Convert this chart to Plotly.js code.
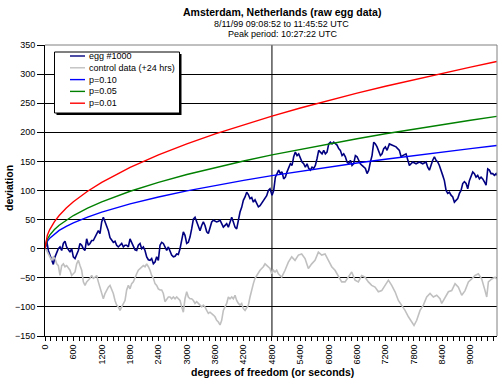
<!DOCTYPE html>
<html>
<head>
<meta charset="utf-8">
<script src="https://cdn.plot.ly/plotly-3.0.1.min.js"></script>
<style>html,body{margin:0;padding:0;background:#fff;}#chart{width:502px;height:384px;}</style>
</head>
<body>
<div id="chart"></div>
<script>
// ---- data ----
const chartTitle = "Amsterdam, Netherlands (raw egg data)";
const subTitle1 = "8/11/99 09:08:52 to 11:45:52 UTC";
const subTitle2 = "Peak period: 10:27:22 UTC";
const xTitle = "degrees of freedom (or seconds)";
const yTitle = "deviation";
const seriesNames = ["egg #1000", "control data (+24 hrs)", "p=0.10", "p=0.05", "p=0.01"];
const xTickVals = [0,600,1200,1800,2400,3000,3600,4200,4800,5400,6000,6600,7200,7800,8400,9000];
const xTickText = ["0","600","1200","1800","2400","3000","3600","4200","4800","5400","6000","6600","7200","7800","8400","9000"];
const peakMarker = 4800;

// first stretch: shared sample positions
const gridA = [0,35,71,106,141,176,212,247,282,317,353,388,423,458,494,529,564,599,635,670,705,740,776,811,846,881,917,952,987,1022,1058,1093,1128,1163,1199,1234,1269,1304,1340,1375,1410,1445,1481,1516,1551,1586,1622,1657,1692,1727,1763,1798,1833,1869,1904,1939,1974,2010,2045,2080,2115,2151,2186,2221,2256,2292,2327,2362,2397,2433,2468,2503,2538,2574,2609,2644,2679,2715,2750,2785,2820,2856,2891,2926,2961,2997,3032,3067,3102,3138,3173,3208,3243,3279,3314,3349,3384,3420,3455,3490,3526,3561,3596,3631,3667,3702,3737,3772,3808,3843,3878,3913,3949,3984,4019,4054,4090,4125,4160,4195,4231,4266,4301,4336,4372,4407,4442,4477,4513,4548,4583,4618,4654,4689,4724,4759,4795,4830,4865,4900];

const eggYA = [0,14,-3,-11,-20,-27,-14,-6,0,3,-3,9,13,3,-3,-6,0,-14,-17,-9,-3,9,6,0,-3,17,6,9,14,14,20,26,31,26,46,54,47,40,31,19,14,11,13,6,3,6,9,3,6,6,3,17,11,3,-2,-3,6,9,0,3,-3,-14,-19,-20,-17,-26,-23,-14,-20,6,11,9,3,-3,3,-6,-11,-14,-13,-9,-10,0,14,29,23,9,11,20,34,51,54,46,37,31,40,46,40,29,26,34,46,49,47,46,47,49,43,37,40,43,37,46,54,46,37,34,49,63,71,83,89,97,93,86,88,80,84,78,72,74,78,83,86,91,100,103];
const eggXB = [4802,4837,4872,4907,4943,4978,5013,5048,5084,5119,5154,5190,5225,5260,5295,5331,5366,5401,5436,5472,5507,5542,5577,5613,5648,5683,5718,5754,5789,5824,5860,5895,5930,5965,6001,6036,6071,6106,6142,6177,6212,6247,6283,6318,6353,6388,6424,6459,6494,6529,6565,6600,6635,6670,6706,6741,6776,6812,6847,6882,6917,6953,6988,7023,7058,7094,7129,7164,7199,7235,7284,7354,7425,7495,7531,7566,7636,7707,7777,7848,7918,7989,8059,8094,8130,8200,8236,8271,8306,8341,8377,8412,8447,8483,8518,8553,8588,8624,8659,8694,8729,8765,8800,8835,8870,8906,8941,8976,9011,9047,9082,9117,9152,9188,9223,9258,9293,9329,9364,9399,9434,9470,9505,9540,9554];
const eggYB = [92,100,123,129,135,129,132,120,123,132,140,146,143,158,166,160,163,155,149,146,140,146,138,135,140,138,143,155,169,166,163,169,163,166,180,183,180,183,180,178,172,169,160,163,158,149,146,152,143,146,160,158,152,146,143,140,138,129,135,149,160,183,180,175,169,160,163,172,175,169,180,178,175,169,158,160,163,143,149,146,149,146,149,140,135,152,158,152,149,143,132,126,117,100,95,97,92,89,80,83,86,95,100,112,115,112,103,117,126,132,129,123,126,120,123,120,115,109,137,135,129,129,126,129,126];

const ctrlYA = [0,-3,-9,-14,-20,-14,-17,-26,-29,-46,-29,-26,-31,-29,-34,-37,-46,-43,-40,-26,-20,-29,-37,-57,-63,-57,-54,-51,-46,-51,-49,-46,-57,-66,-74,-86,-77,-71,-66,-63,-69,-77,-89,-97,-100,-106,-100,-94,-89,-71,-63,-69,-60,-57,-49,-43,-37,-34,-31,-29,-31,-26,-31,-37,-46,-51,-60,-63,-69,-71,-71,-77,-91,-86,-83,-83,-86,-83,-86,-83,-86,-89,-100,-109,-86,-74,-83,-86,-86,-89,-94,-91,-94,-97,-100,-97,-100,-106,-111,-109,-111,-114,-117,-123,-126,-131,-123,-106,-100,-94,-83,-86,-83,-86,-80,-89,-94,-97,-94,-103,-106,-100,-97,-83,-69,-60,-51,-46,-40,-37,-34,-31,-26,-29,-31,-34,-43,-37,-40,-37];
const ctrlXB = [4936,5006,5077,5147,5218,5288,5359,5429,5500,5570,5641,5711,5782,5852,5923,5993,6064,6134,6205,6275,6346,6416,6487,6557,6628,6698,6769,6839,6910,6980,7051,7122,7192,7263,7333,7404,7474,7545,7615,7686,7756,7805,7862,7932,8003,8073,8144,8214,8285,8355,8391,8461,8532,8602,8673,8743,8814,8884,8955,9025,9096,9166,9237,9307,9343,9378,9448,9519,9554];
const ctrlYB = [-43,-49,-37,-23,-14,-20,-11,-9,-17,-34,-26,-20,-6,-11,-9,-20,-31,-37,-46,-57,-57,-49,-40,-54,-57,-46,-49,-57,-63,-66,-74,-72,-63,-54,-63,-74,-89,-97,-106,-117,-126,-132,-123,-106,-97,-83,-77,-83,-80,-86,-94,-83,-74,-72,-60,-66,-80,-72,-57,-52,-46,-43,-52,-72,-83,-57,-52,-49,-52];

const critN = [0,25,50,100,200,300,450,600,900,1200,1800,2400,3000,3600,4200,4800,5400,6000,6600,7200,7800,8400,9000,9554];
const p10 = [0,9.1,12.8,18.1,25.6,31.4,38.4,44.4,54.4,62.8,76.9,88.8,99.3,108.7,117.5,125.6,133.2,140.4,147.2,153.8,160.1,166.1,171.9,177.2];
const p05 = [0,11.6,16.4,23.3,32.9,40.3,49.3,57.0,69.8,80.6,98.7,114.0,127.4,139.6,150.7,161.2,170.9,180.2,189.0,197.4,205.5,213.2,220.7,227.4];
const p01 = [0,16.4,23.3,32.9,46.5,57.0,69.8,80.6,98.7,114.0,139.6,161.2,180.2,197.4,213.2,227.9,241.8,254.8,267.3,279.2,290.6,301.5,312.1,321.6];

const colors = ["#000080", "#c0c0c0", "#0000ff", "#008000", "#ff0000"];

// ---- build ----
const eggX = gridA.slice(0, eggYA.length).concat(eggXB);
const eggY = eggYA.concat(eggYB);
const ctrlX = gridA.concat(ctrlXB);
const ctrlY = ctrlYA.concat(ctrlYB);

const FONT = "Liberation Sans, Arial, sans-serif";
const W = 502, H = 384, ML = 45, MR = 5, MT = 45, MB = 48;
const PW = W - ML - MR, PH = H - MT - MB;
const px = x => (x - ML) / PW;
const py = y => (H - MB - y) / PH;

const traces = [
  {x: eggX, y: eggY, name: seriesNames[0], mode: "lines", line: {color: colors[0], width: 1.6}},
  {x: ctrlX, y: ctrlY, name: seriesNames[1], mode: "lines", line: {color: colors[1], width: 1.6}},
  {x: critN, y: p10, name: seriesNames[2], mode: "lines", line: {color: colors[2], width: 1.4}},
  {x: critN, y: p05, name: seriesNames[3], mode: "lines", line: {color: colors[3], width: 1.4}},
  {x: critN, y: p01, name: seriesNames[4], mode: "lines", line: {color: colors[4], width: 1.4}}
].map(t => Object.assign(t, {showlegend: false, hoverinfo: "skip"}));

const shapes = [
  {type: "line", xref: "x", yref: "paper", x0: peakMarker, x1: peakMarker, y0: 0, y1: 1, line: {color: "#000", width: 1}, layer: "below"},
  {type: "line", xref: "paper", yref: "paper", x0: 0, x1: 1, y0: 1, y1: 1, line: {color: "#808080", width: 1}, layer: "above"},
  {type: "line", xref: "paper", yref: "paper", x0: 1, x1: 1, y0: 0, y1: 1, line: {color: "#808080", width: 1}, layer: "above"},
  // legend box with shadow
  {type: "rect", xref: "paper", yref: "paper", x0: px(56.5), x1: px(181.5), y0: py(115), y1: py(54), fillcolor: "#000", line: {width: 0}, layer: "above"},
  {type: "rect", xref: "paper", yref: "paper", x0: px(54.5), x1: px(179.5), y0: py(113), y1: py(52), fillcolor: "#fff", line: {color: "#000", width: 1}, layer: "above"}
];
const rowY = [56, 67.8, 79.6, 91.4, 103.2];
const annotations = [
  {text: "<b>" + chartTitle + "</b>", x: px(282), y: py(12), font: {size: 10.5}},
  {text: subTitle1, x: px(281), y: py(24), font: {size: 9}},
  {text: subTitle2, x: px(283), y: py(34), font: {size: 9}},
  {text: "<b>" + xTitle + "</b>", x: px(272), y: py(372), font: {size: 10.5}},
  {text: "<b>" + yTitle + "</b>", x: px(9), y: py(188), font: {size: 10.5}, textangle: -90}
];
seriesNames.forEach((name, i) => {
  shapes.push({type: "line", xref: "paper", yref: "paper", x0: px(70), x1: px(85), y0: py(rowY[i]), y1: py(rowY[i]), line: {color: colors[i], width: 1.4}, layer: "above"});
  annotations.push({text: name, x: px(87), y: py(rowY[i]), xanchor: "left", font: {size: 9}});
});
annotations.forEach(a => {
  a.xref = "paper"; a.yref = "paper"; a.showarrow = false;
  if (!a.xanchor) a.xanchor = "center";
  a.yanchor = "middle";
  a.font = Object.assign({family: FONT, color: "#000"}, a.font);
});

const layout = {
  width: W, height: H,
  margin: {l: ML, r: MR, t: MT, b: MB, pad: 0},
  paper_bgcolor: "#fff", plot_bgcolor: "#fff",
  font: {family: FONT, size: 9, color: "#000"},
  showlegend: false,
  xaxis: {
    range: [0, 9560], tickmode: "array", tickvals: xTickVals, ticktext: xTickText,
    tickangle: -90, ticks: "outside", ticklen: 4, tickcolor: "#000", tickwidth: 1,
    showline: true, linecolor: "#000", linewidth: 1, showgrid: false, zeroline: false,
    tickfont: {family: FONT, size: 9, color: "#000"},
    minor: {tickmode: "linear", tick0: 0, dtick: 120, ticks: "outside", ticklen: 4, tickcolor: "#000", showgrid: false}
  },
  yaxis: {
    range: [-150, 350], tickmode: "linear", tick0: -150, dtick: 50,
    ticks: "outside", ticklen: 7, tickcolor: "#000", tickwidth: 1,
    showline: true, linecolor: "#000", linewidth: 1,
    showgrid: true, gridcolor: "#000", gridwidth: 1, zeroline: false,
    tickfont: {family: FONT, size: 9, color: "#000"}
  },
  shapes: shapes,
  annotations: annotations
};

Plotly.newPlot("chart", traces, layout, {displayModeBar: false, staticPlot: true});
</script>
</body>
</html>
